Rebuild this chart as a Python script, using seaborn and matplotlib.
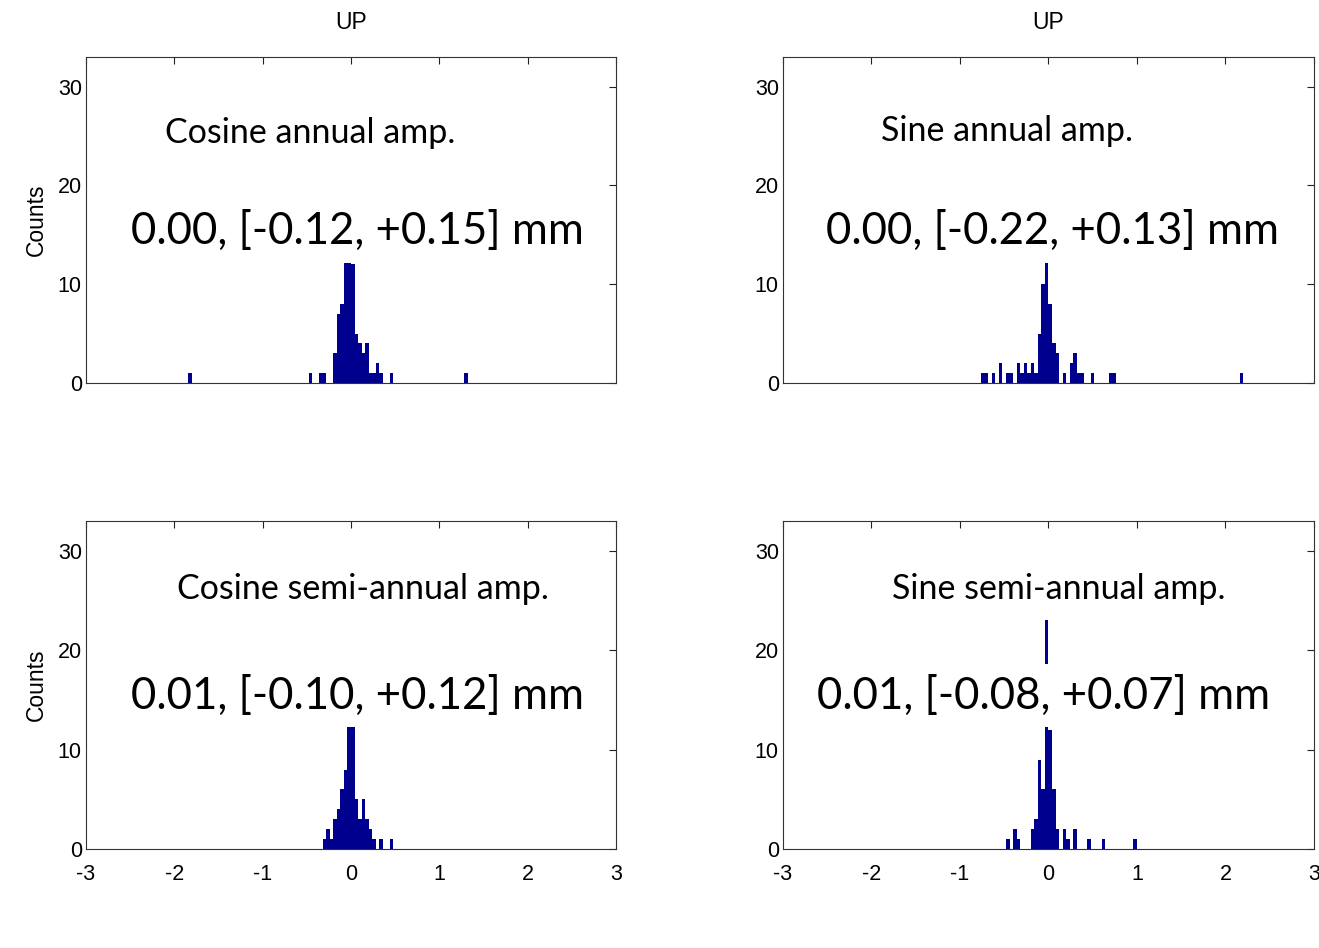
import numpy as np
import pandas as pd
import matplotlib
matplotlib.use('Agg')
import matplotlib.pyplot as plt
import seaborn as sns

# bin centres (mm) and counts
cos_annual_x = [-1.82, -0.46, -0.34, -0.30, -0.18, -0.14, -0.10, -0.06, -0.02, 0.02,
                0.06, 0.10, 0.14, 0.18, 0.22, 0.26, 0.30, 0.34, 0.46, 1.30]
cos_annual_n = [1, 1, 1, 1, 3, 7, 8, 13, 15, 12, 5, 4, 3, 4, 1, 1, 2, 1, 1, 1]

sin_annual_x = [-0.74, -0.70, -0.62, -0.54, -0.46, -0.42, -0.34, -0.30, -0.26, -0.22,
                -0.18, -0.14, -0.10, -0.06, -0.02, 0.02, 0.06, 0.10, 0.18, 0.26,
                0.30, 0.34, 0.38, 0.50, 0.70, 0.74, 2.18]
sin_annual_n = [1, 1, 1, 2, 1, 1, 2, 1, 2, 1, 2, 1, 5, 10, 15, 8, 4, 3, 1, 2,
                3, 1, 1, 1, 1, 1, 1]

cos_semi_x = [-0.30, -0.26, -0.22, -0.18, -0.14, -0.10, -0.06, -0.02, 0.02, 0.06,
              0.10, 0.14, 0.18, 0.22, 0.26, 0.34, 0.46]
cos_semi_n = [1, 2, 1, 3, 4, 6, 8, 16, 14, 5, 3, 5, 3, 2, 1, 1, 1]

sin_semi_x = [-0.46, -0.38, -0.34, -0.18, -0.14, -0.10, -0.06, -0.02, 0.02, 0.06,
              0.10, 0.18, 0.22, 0.30, 0.46, 0.62, 0.98]
sin_semi_n = [1, 2, 1, 2, 3, 9, 6, 23, 12, 6, 2, 2, 1, 2, 1, 1, 1]

panel_names = ['Cosine annual amp.', 'Sine annual amp.',
               'Cosine semi-annual amp.', 'Sine semi-annual amp.']
panel_stats = ['0.00, [-0.12, +0.15] mm', '0.00, [-0.22, +0.13] mm',
               '0.01, [-0.10, +0.12] mm', '0.01, [-0.08, +0.07] mm']
x_ticks = [-3, -2, -1, 0, 1, 2, 3]
y_ticks = [0, 10, 20, 30]

sns.set_style('white')
tick_font = ['Liberation Sans', 'DejaVu Sans']
note_font = ['Lato', 'DejaVu Sans']
plt.rcParams['font.family'] = tick_font
plt.rcParams['axes.unicode_minus'] = False

fig = plt.figure(figsize=(13.19, 9.48), dpi=100)
positions = [[0.0652, 0.5960, 0.4018, 0.3439], [0.5936, 0.5960, 0.4026, 0.3439],
             [0.0652, 0.1044, 0.4018, 0.3460], [0.5936, 0.1044, 0.4026, 0.3460]]
data = [(cos_annual_x, cos_annual_n), (sin_annual_x, sin_annual_n),
        (cos_semi_x, cos_semi_n), (sin_semi_x, sin_semi_n)]
name_pos = [(-0.46, 25.3), (-0.47, 25.5), (0.13, 26.2), (0.12, 26.2)]
stat_pos = [(0.07, 15.3), (0.04, 15.3), (0.07, 15.4), (-0.06, 15.4)]

for i, pos in enumerate(positions):
    ax = fig.add_axes(pos)
    xs, ns = data[i]
    df = pd.DataFrame({'amp': xs, 'count': ns})
    sns.histplot(data=df, x='amp', weights='count', binwidth=0.04, binrange=(-3, 3),
                 color='#00008f', alpha=1, linewidth=0, ax=ax)
    ax.set_xlim(-3, 3)
    ax.set_ylim(0, 33)
    ax.set_xticks(x_ticks)
    ax.set_yticks(y_ticks)
    ax.tick_params(direction='in', top=True, right=True, length=5, width=0.8,
                   labelsize=15.5, colors='#222222', labelcolor='black')
    ax.tick_params(axis='x', pad=11)
    ax.tick_params(axis='y', pad=3)
    for s in ax.spines.values():
        s.set_color('#333333')
        s.set_linewidth(0.8)
    ax.set_xlabel('')
    if i < 2:
        ax.set_xticklabels([])
        ax.set_title('UP', fontsize=16.5, pad=20, color='black')
    if i % 2 == 0:
        ax.set_ylabel('Counts', fontsize=16.5, labelpad=7, color='black')
    else:
        ax.set_ylabel('')
    ax.text(*name_pos[i], panel_names[i], ha='center', va='center', fontsize=24.5,
            family=note_font, color='black',
            bbox=dict(facecolor='white', edgecolor='none', pad=3))
    ax.text(*stat_pos[i], panel_stats[i], ha='center', va='center', fontsize=31.5,
            family=note_font, color='black',
            bbox=dict(facecolor='white', edgecolor='none', pad=8))

fig.savefig('out.png', dpi=100, facecolor='white')
